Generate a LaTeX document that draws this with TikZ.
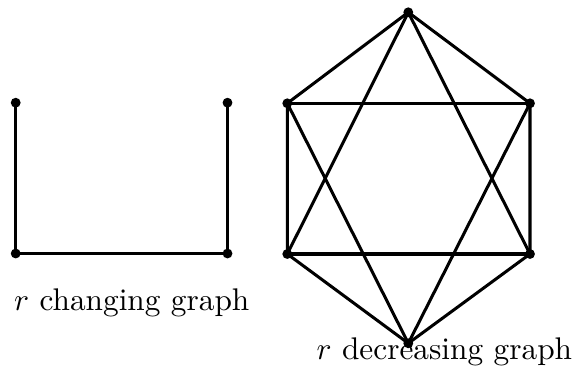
\documentclass[tikz,border=0pt]{standalone}
\usepackage{graphicx}
\begin{document}
\begin{tikzpicture}[x=0.3145pt,y=-0.3145pt,
  vtx/.style={circle,fill=black,inner sep=0pt,minimum size=3.1pt},
  edge/.style={line width=0.95pt},
  lbl/.style={anchor=base west,inner sep=0pt}]
\useasboundingbox (0,0) rectangle (574,376);
% left graph
\node[vtx] (a1) at (15.7,102.7) {};
\node[vtx] (a2) at (227.5,102.7) {};
\node[vtx] (a3) at (15.7,253.5) {};
\node[vtx] (a4) at (227.5,253.5) {};
\draw[edge] (a1.center) -- (a3.center) -- (a4.center) -- (a2.center);
\node[lbl] (l1) at (13.5,310.5) {\scalebox{0.985}{$r$ changing graph}};
% right graph
\node[vtx] (t)  at (408.3,12.3) {};
\node[vtx] (ul) at (287.3,103.3) {};
\node[vtx] (ur) at (530,103.3) {};
\node[vtx] (ll) at (287.3,254) {};
\node[vtx] (lr) at (530,254) {};
\node[vtx] (b)  at (408.3,343.3) {};
\draw[edge] (t.center) -- (ul.center) -- (ll.center) -- (b.center) -- (lr.center) -- (ur.center) -- cycle;
\draw[edge] (ul.center) -- (ur.center);
\draw[edge] (ll.center) -- (lr.center);
\draw[edge] (t.center) -- (ll.center);
\draw[edge] (t.center) -- (lr.center);
\draw[edge] (b.center) -- (ul.center);
\draw[edge] (b.center) -- (ur.center);
\node[lbl] (l2) at (316,359.5) {\scalebox{0.985}{$r$ decreasing graph}};
\end{tikzpicture}
\end{document}
